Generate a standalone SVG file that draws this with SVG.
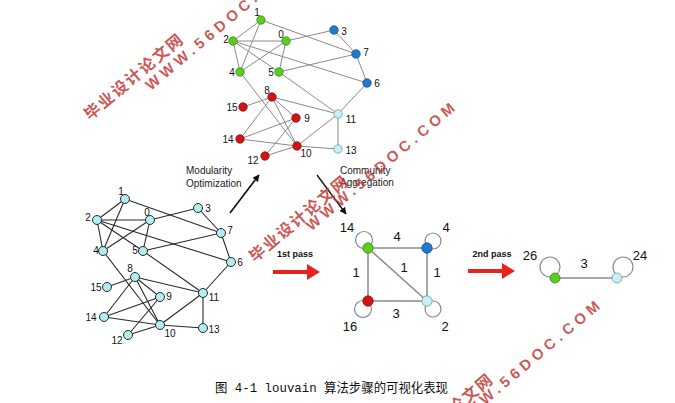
<svg xmlns="http://www.w3.org/2000/svg" width="675" height="403" viewBox="0 0 675 403">
<defs>
<style>
.e1{stroke:#8a8a8a;stroke-width:1;fill:none}
.e2{stroke:#2a2a2a;stroke-width:1.1;fill:none}
.e3{stroke:#8a8a8a;stroke-width:1.5;fill:none}
.lp{stroke:#8a8a8a;stroke-width:1.2;fill:none}
.g{fill:#5ccc22;stroke:#3b8a14;stroke-width:0.8}
.b{fill:#1f7ad2;stroke:#124e8e;stroke-width:0.8}
.r{fill:#d41414;stroke:#8e0e0e;stroke-width:0.8}
.c{fill:#c6f0f2;stroke:#6a9ea4;stroke-width:0.8}
.bc{fill:#b6ecee;stroke:#1e2e30;stroke-width:1}
.lb{font-family:"Liberation Sans",Arial,sans-serif;font-size:10px;fill:#111;text-anchor:middle}
.ml{font-family:"Liberation Sans",Arial,sans-serif;font-size:13px;fill:#111;text-anchor:middle}
.tx{font-family:"Liberation Sans",Arial,sans-serif;font-size:10px;fill:#222}
.ps{font-family:"Liberation Sans",Arial,sans-serif;font-size:9px;font-weight:bold;fill:#111;text-anchor:middle}
.wmc{font-family:"Noto Sans CJK SC",sans-serif;font-size:16px;font-weight:bold;fill:#c23a36;fill-opacity:0.85;text-anchor:middle;dominant-baseline:central}
.wmw{font-family:"Liberation Sans",Arial,sans-serif;font-size:15px;font-weight:bold;fill:#c23a36;fill-opacity:0.85;text-anchor:middle;dominant-baseline:central}
</style>
<marker id="ah" viewBox="0 0 10 10" refX="9" refY="5" markerWidth="7" markerHeight="7" orient="auto" markerUnits="userSpaceOnUse"><path d="M0,0 L10,5 L0,10 z" fill="#111"/></marker>
</defs>
<rect width="675" height="403" fill="#fff"/>

<!-- connectors -->
<g id="connectors">
  <!-- top graph -->
  <g id="top-edges" class="e1">
    <line x1="261" y1="20" x2="233" y2="41"/>
    <line x1="261" y1="20" x2="240" y2="72"/>
    <line x1="261" y1="20" x2="356" y2="54"/>
    <line x1="233" y1="41" x2="286" y2="41"/>
    <line x1="233" y1="41" x2="240" y2="72"/>
    <line x1="233" y1="41" x2="279" y2="72"/>
    <line x1="233" y1="41" x2="367" y2="83"/>
    <line x1="286" y1="41" x2="334" y2="30"/>
    <line x1="286" y1="41" x2="240" y2="72"/>
    <line x1="286" y1="41" x2="279" y2="72"/>
    <line x1="334" y1="30" x2="356" y2="54"/>
    <line x1="356" y1="54" x2="279" y2="72"/>
    <line x1="356" y1="54" x2="367" y2="83"/>
    <line x1="240" y1="72" x2="297" y2="146"/>
    <line x1="279" y1="72" x2="338" y2="114"/>
    <line x1="367" y1="83" x2="338" y2="114"/>
    <line x1="272" y1="97" x2="243" y2="107"/>
    <line x1="272" y1="97" x2="338" y2="114"/>
    <line x1="272" y1="97" x2="296" y2="118"/>
    <line x1="272" y1="97" x2="297" y2="146"/>
    <line x1="272" y1="97" x2="240" y2="139"/>
    <line x1="296" y1="118" x2="240" y2="139"/>
    <line x1="296" y1="118" x2="265" y2="156"/>
    <line x1="240" y1="139" x2="297" y2="146"/>
    <line x1="297" y1="146" x2="338" y2="114"/>
    <line x1="297" y1="146" x2="265" y2="156"/>
    <line x1="297" y1="146" x2="338" y2="149"/>
    <line x1="338" y1="114" x2="338" y2="149"/>
  </g>
  <!-- bottom graph -->
  <g id="bottom-edges" class="e2">
    <line x1="125" y1="199" x2="97" y2="220"/>
    <line x1="125" y1="199" x2="103" y2="251"/>
    <line x1="125" y1="199" x2="221" y2="233"/>
    <line x1="97" y1="220" x2="150" y2="220"/>
    <line x1="97" y1="220" x2="103" y2="251"/>
    <line x1="97" y1="220" x2="143" y2="251"/>
    <line x1="97" y1="220" x2="231" y2="262"/>
    <line x1="150" y1="220" x2="198" y2="208"/>
    <line x1="150" y1="220" x2="103" y2="251"/>
    <line x1="150" y1="220" x2="143" y2="251"/>
    <line x1="198" y1="208" x2="221" y2="233"/>
    <line x1="221" y1="233" x2="143" y2="251"/>
    <line x1="221" y1="233" x2="231" y2="262"/>
    <line x1="103" y1="251" x2="160" y2="325"/>
    <line x1="143" y1="251" x2="203" y2="293"/>
    <line x1="231" y1="262" x2="203" y2="293"/>
    <line x1="135" y1="277" x2="107" y2="287"/>
    <line x1="135" y1="277" x2="203" y2="293"/>
    <line x1="135" y1="277" x2="160" y2="297"/>
    <line x1="135" y1="277" x2="160" y2="325"/>
    <line x1="135" y1="277" x2="104" y2="317"/>
    <line x1="160" y1="297" x2="104" y2="317"/>
    <line x1="160" y1="297" x2="128" y2="335"/>
    <line x1="104" y1="317" x2="160" y2="325"/>
    <line x1="160" y1="325" x2="203" y2="293"/>
    <line x1="160" y1="325" x2="128" y2="335"/>
    <line x1="160" y1="325" x2="203" y2="328"/>
    <line x1="203" y1="293" x2="203" y2="328"/>
  </g>
  <!-- aggregated graph 1st pass -->
  <g id="mid-edges" class="e3">
    <line x1="368" y1="248" x2="427" y2="248"/>
    <line x1="368" y1="248" x2="368" y2="301"/>
    <line x1="427" y1="248" x2="427" y2="301"/>
    <line x1="368" y1="301" x2="427" y2="301"/>
    <line x1="368" y1="248" x2="427" y2="301"/>
  </g>
  <g id="mid-loops" class="lp">
    <circle cx="364" cy="240" r="8.5"/>
    <circle cx="433" cy="241" r="8"/>
    <circle cx="363" cy="309" r="8.5"/>
    <circle cx="433" cy="309" r="8"/>
  </g>
  <!-- 2nd pass graph -->
  <g id="right-edges" class="e3">
    <line x1="555" y1="278" x2="617" y2="278"/>
  </g>
  <g id="right-loops" class="lp">
    <circle cx="550" cy="267" r="10"/>
    <circle cx="623" cy="267" r="10"/>
  </g>
  <!-- process arrows -->
  <line x1="230" y1="213" x2="259" y2="175" stroke="#111" stroke-width="1.6" marker-end="url(#ah)"/>
  <line x1="317" y1="175" x2="346" y2="214" stroke="#111" stroke-width="1.3" marker-end="url(#ah)"/>
  <polygon points="273,270 307,270 307,264 320,272 307,280 307,274 273,274" fill="#e8221e"/>
  <polygon points="468,269 502,269 502,263 515,271 502,279 502,273 468,273" fill="#e8221e"/>
</g>

<!-- top graph nodes -->
<g id="top-nodes">
  <g id="t0"><circle class="g" cx="286" cy="41" r="4.2"/><text class="lb" x="281" y="38">0</text></g>
  <g id="t1"><circle class="g" cx="261" cy="20" r="4.2"/><text class="lb" x="257" y="16">1</text></g>
  <g id="t2"><circle class="g" cx="233" cy="41" r="4.2"/><text class="lb" x="226" y="43">2</text></g>
  <g id="t3"><circle class="b" cx="334" cy="30" r="4.2"/><text class="lb" x="344" y="35">3</text></g>
  <g id="t4"><circle class="g" cx="240" cy="72" r="4.2"/><text class="lb" x="232" y="76">4</text></g>
  <g id="t5"><circle class="g" cx="279" cy="72" r="4.2"/><text class="lb" x="271" y="76">5</text></g>
  <g id="t6"><circle class="b" cx="367" cy="83" r="4.2"/><text class="lb" x="377" y="87">6</text></g>
  <g id="t7"><circle class="b" cx="356" cy="54" r="4.2"/><text class="lb" x="366" y="56">7</text></g>
  <g id="t8"><circle class="r" cx="272" cy="97" r="4.2"/><text class="lb" x="267" y="94">8</text></g>
  <g id="t9"><circle class="r" cx="296" cy="118" r="4.2"/><text class="lb" x="307" y="122">9</text></g>
  <g id="t10"><circle class="r" cx="297" cy="146" r="4.2"/><text class="lb" x="306" y="157">10</text></g>
  <g id="t11"><circle class="c" cx="338" cy="114" r="4.2"/><text class="lb" x="351" y="123">11</text></g>
  <g id="t12"><circle class="r" cx="265" cy="156" r="4.2"/><text class="lb" x="253" y="164">12</text></g>
  <g id="t13"><circle class="c" cx="338" cy="149" r="4.2"/><text class="lb" x="351" y="154">13</text></g>
  <g id="t14"><circle class="r" cx="240" cy="139" r="4.2"/><text class="lb" x="228" y="143">14</text></g>
  <g id="t15"><circle class="r" cx="243" cy="107" r="4.2"/><text class="lb" x="232" y="111">15</text></g>
</g>

<!-- bottom graph nodes -->
<g id="bottom-nodes">
  <g id="b0"><circle class="bc" cx="150" cy="220" r="4.5"/><text class="lb" x="147" y="216">0</text></g>
  <g id="b1"><circle class="bc" cx="125" cy="199" r="4.5"/><text class="lb" x="121" y="195">1</text></g>
  <g id="b2"><circle class="bc" cx="97" cy="220" r="4.5"/><text class="lb" x="88" y="221">2</text></g>
  <g id="b3"><circle class="bc" cx="198" cy="208" r="4.5"/><text class="lb" x="208" y="212">3</text></g>
  <g id="b4"><circle class="bc" cx="103" cy="251" r="4.5"/><text class="lb" x="96" y="254">4</text></g>
  <g id="b5"><circle class="bc" cx="143" cy="251" r="4.5"/><text class="lb" x="135" y="254">5</text></g>
  <g id="b6"><circle class="bc" cx="231" cy="262" r="4.5"/><text class="lb" x="240" y="266">6</text></g>
  <g id="b7"><circle class="bc" cx="221" cy="233" r="4.5"/><text class="lb" x="230" y="234">7</text></g>
  <g id="b8"><circle class="bc" cx="135" cy="277" r="4.5"/><text class="lb" x="130" y="272">8</text></g>
  <g id="b9"><circle class="bc" cx="160" cy="297" r="4.5"/><text class="lb" x="169" y="300">9</text></g>
  <g id="b10"><circle class="bc" cx="160" cy="325" r="4.5"/><text class="lb" x="170" y="337">10</text></g>
  <g id="b11"><circle class="bc" cx="203" cy="293" r="4.5"/><text class="lb" x="214" y="301">11</text></g>
  <g id="b12"><circle class="bc" cx="128" cy="335" r="4.5"/><text class="lb" x="117" y="344">12</text></g>
  <g id="b13"><circle class="bc" cx="203" cy="328" r="4.5"/><text class="lb" x="214" y="333">13</text></g>
  <g id="b14"><circle class="bc" cx="104" cy="317" r="4.5"/><text class="lb" x="91" y="321">14</text></g>
  <g id="b15"><circle class="bc" cx="107" cy="287" r="4.5"/><text class="lb" x="96" y="291">15</text></g>
</g>

<!-- aggregated 1st pass nodes -->
<g id="mid-nodes">
  <g id="m-green"><circle class="g" cx="368" cy="248" r="5.2"/><text class="ml" x="347" y="232">14</text></g>
  <g id="m-blue"><circle class="b" cx="427" cy="248" r="5.2"/><text class="ml" x="446" y="232">4</text></g>
  <g id="m-red"><circle class="r" cx="368" cy="301" r="5.2"/><text class="ml" x="350" y="331">16</text></g>
  <g id="m-cyan"><circle class="c" cx="427" cy="301" r="5.2"/><text class="ml" x="445" y="331">2</text></g>
  <g id="m-weights">
    <text class="ml" x="397" y="241">4</text>
    <text class="ml" x="356" y="277">1</text>
    <text class="ml" x="404" y="272">1</text>
    <text class="ml" x="437" y="277">1</text>
    <text class="ml" x="396" y="318">3</text>
  </g>
</g>

<!-- 2nd pass nodes -->
<g id="right-nodes">
  <g id="r-green"><circle class="g" cx="555" cy="278" r="5"/><text class="ml" x="530" y="260">26</text></g>
  <g id="r-cyan"><circle class="c" cx="617" cy="278" r="5"/><text class="ml" x="640" y="260">24</text></g>
  <text class="ml" x="584" y="268">3</text>
</g>

<!-- labels -->
<g id="labels">
  <text class="tx" x="186" y="174">Modularity</text>
  <text class="tx" x="186" y="187">Optimization</text>
  <text class="tx" x="340" y="174">Community</text>
  <text class="tx" x="340" y="186">Aggregation</text>
  <text class="ps" x="295" y="257">1st pass</text>
  <text class="ps" x="492" y="257">2nd pass</text>
</g>

<!-- caption -->
<text x="215" y="392" font-family="'Liberation Mono','Noto Sans CJK SC',monospace" font-size="13" fill="#111" textLength="233" lengthAdjust="spacingAndGlyphs">图 4-1 louvain 算法步骤的可视化表现</text>

<!-- watermarks -->
<g id="watermarks">
  <text class="wmc" transform="translate(132.5,76) rotate(-40)" textLength="123">毕业设计论文网</text>
  <text class="wmw" transform="translate(219.5,26) rotate(-40)" textLength="189">WWW.56DOC.COM</text>
  <text class="wmc" transform="translate(297.5,218) rotate(-40)" textLength="123">毕业设计论文网</text>
  <text class="wmw" transform="translate(380,166.5) rotate(-40)" textLength="189">WWW.56DOC.COM</text>
  <text class="wmc" transform="translate(442,416) rotate(-40)" textLength="123">毕业设计论文网</text>
  <text class="wmw" transform="translate(525,364.5) rotate(-40)" textLength="189">WWW.56DOC.COM</text>
</g>
</svg>
